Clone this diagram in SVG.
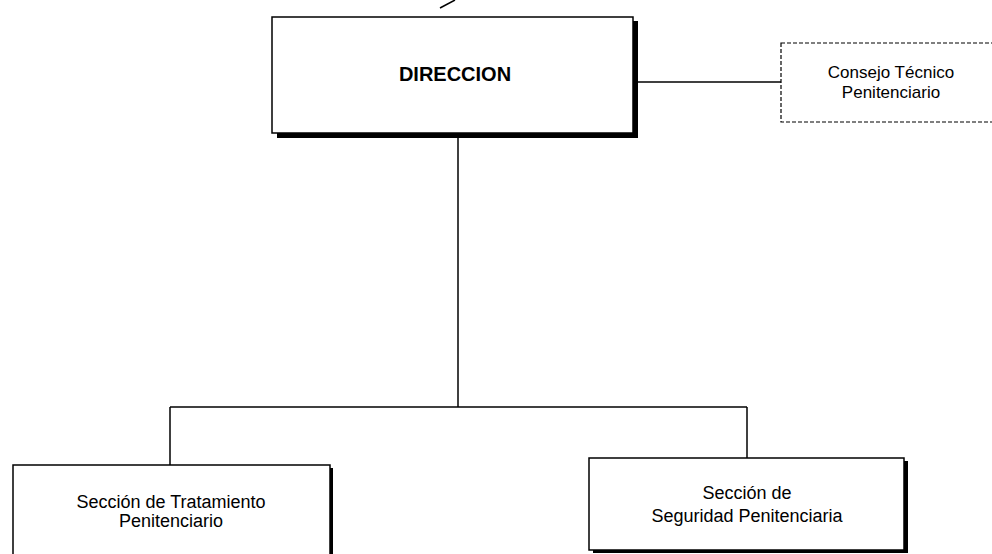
<svg xmlns="http://www.w3.org/2000/svg" width="992" height="554" viewBox="0 0 992 554">
<style>
.box{fill:#fff;stroke:#000;stroke-width:1.5}
.shadow{fill:#000}
.dash{fill:#fff;stroke:#000;stroke-width:1.2;stroke-dasharray:4 2}
.conn{fill:none;stroke:#000;stroke-width:1.5}
.t{font-family:"Liberation Sans",Arial,sans-serif;fill:#000;text-anchor:middle}
</style>
<rect width="992" height="554" fill="#fff"/>
<line x1="440" y1="8" x2="455" y2="0" class="conn" stroke-width="1"/>
<g id="connectors">
<line x1="637" y1="82" x2="781" y2="82" class="conn"/>
<line x1="458" y1="138" x2="458" y2="407" class="conn"/>
<line x1="170" y1="407" x2="747" y2="407" class="conn"/>
<line x1="170" y1="407" x2="170" y2="465" class="conn"/>
<line x1="747" y1="407" x2="747" y2="458" class="conn"/>
</g>
<g id="direccion">
<rect x="277" y="21" width="361" height="117" class="shadow"/>
<rect x="272" y="17" width="361" height="116" class="box"/>
<text x="455" y="81" class="t" font-size="20" font-weight="bold">DIRECCION</text>
</g>
<g id="consejo">
<rect x="781" y="43" width="220" height="79" class="dash"/>
<text x="891" y="78" class="t" font-size="17">Consejo Técnico</text>
<text x="891" y="98" class="t" font-size="17">Penitenciario</text>
</g>
<g id="tratamiento">
<rect x="16" y="468" width="317" height="100" class="shadow"/>
<rect x="13" y="465" width="317" height="100" class="box"/>
<text x="171" y="508" class="t" font-size="18">Sección de Tratamiento</text>
<text x="171" y="527" class="t" font-size="18">Penitenciario</text>
</g>
<g id="seguridad">
<rect x="593" y="461" width="315" height="92" class="shadow"/>
<rect x="589" y="458" width="315" height="92" class="box"/>
<text x="747" y="499" class="t" font-size="18">Sección de</text>
<text x="747" y="522" class="t" font-size="18">Seguridad Penitenciaria</text>
</g>
</svg>
